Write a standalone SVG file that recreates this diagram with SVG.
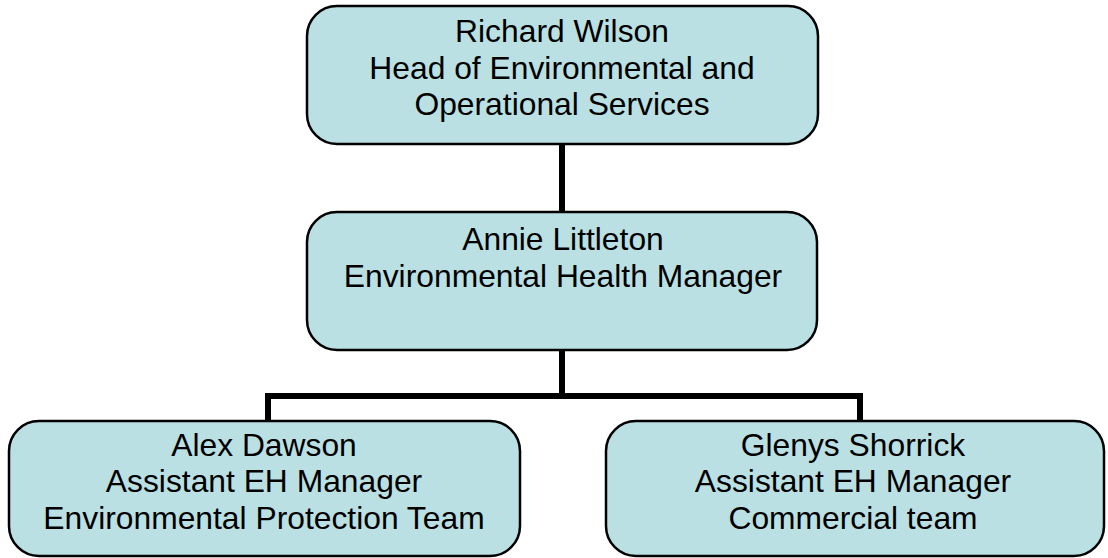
<svg xmlns="http://www.w3.org/2000/svg" width="1108" height="558" viewBox="0 0 1108 558">
<style>
.box{fill:#BAE0E4;stroke:#000;stroke-width:2.5}
.t{font-family:"Liberation Sans",Arial,sans-serif;font-size:31.8px;fill:#000;text-anchor:middle}
.c{fill:none;stroke:#000;stroke-width:6;stroke-linecap:butt}
</style>
<rect width="1108" height="558" fill="#fff"/>
<g id="connectors">
<line class="c" x1="562" y1="144" x2="562" y2="212"/>
<line class="c" x1="562" y1="350" x2="562" y2="399"/>
<polyline class="c" points="268,421 268,396 860,396 860,421"/>
</g>
<g id="n1">
<rect class="box" x="307" y="6" width="511" height="138" rx="30"/>
<text class="t" x="562" y="42">Richard Wilson</text>
<text class="t" x="562" y="79">Head of Environmental and</text>
<text class="t" x="562" y="115">Operational Services</text>
</g>
<g id="n2">
<rect class="box" x="307" y="212" width="510" height="138" rx="30"/>
<text class="t" x="563" y="250">Annie Littleton</text>
<text class="t" x="563" y="287">Environmental Health Manager</text>
</g>
<g id="n3">
<rect class="box" x="9" y="421" width="511" height="135" rx="30"/>
<text class="t" x="264" y="456">Alex Dawson</text>
<text class="t" x="264" y="492">Assistant EH Manager</text>
<text class="t" x="264" y="529">Environmental Protection Team</text>
</g>
<g id="n4">
<rect class="box" x="606" y="421" width="498" height="135" rx="30"/>
<text class="t" x="853" y="456">Glenys Shorrick</text>
<text class="t" x="853" y="492">Assistant EH Manager</text>
<text class="t" x="853" y="529">Commercial team</text>
</g>
</svg>
